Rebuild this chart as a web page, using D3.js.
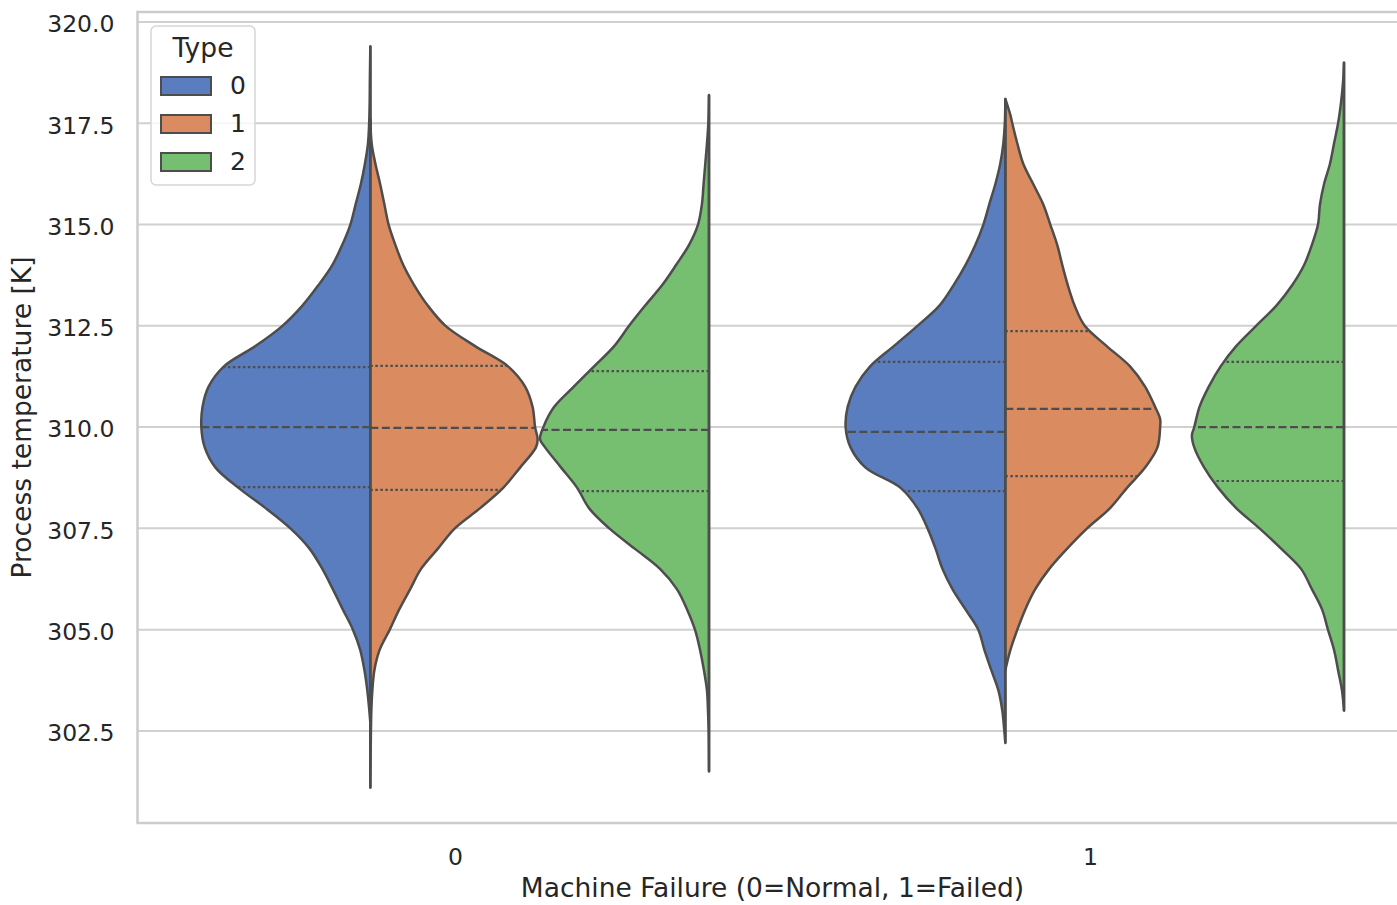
<!DOCTYPE html>
<html><head><meta charset="utf-8">
<script src="https://cdn.jsdelivr.net/npm/d3@7"></script>
<style>
body{margin:0;background:#fff}
svg{display:block}
text{font-family:"DejaVu Sans",sans-serif;fill:#262626}
</style>
</head><body>
<svg id="chart" width="1397" height="905"></svg>
<script>
// ---------------- DATA ----------------
const categories = ["0", "1"];                 // Machine Failure
const hueLevels = ["0", "1", "2"];              // Type
const yTicks = [302.5, 305.0, 307.5, 310.0, 312.5, 315.0, 317.5, 320.0];
const xTitle = "Machine Failure (0=Normal, 1=Failed)";
const yTitle = "Process temperature [K]";
const legendTitle = "Type";

// density profiles [temperature, relative density]
const fail0_type0 = [[319.4,0],[318.5,0.003],[318,0.004],[317.5,0.007],[317,0.014],[316.5,0.032],[316,0.056],[315.5,0.087],[315,0.118],[314.5,0.166],[314,0.225],[313.5,0.308],[313,0.402],[312.5,0.52],[312,0.68],[311.5,0.866],[311,0.957],[310.5,0.993],[310,1.0],[309.5,0.98],[309,0.916],[308.5,0.78],[308,0.62],[307.5,0.473],[307,0.36],[306.5,0.284],[306,0.222],[305.5,0.163],[305,0.103],[304.5,0.06],[304,0.035],[303.5,0.018],[303,0.006],[302.7,0]];
const fail0_type1 = [[317.6,0],[317,0.008],[316.5,0.03],[316,0.058],[315.5,0.083],[315,0.108],[314.5,0.148],[314,0.195],[313.5,0.26],[313,0.34],[312.5,0.445],[312,0.62],[311.5,0.815],[311,0.916],[310.5,0.96],[310,0.975],[309.7,0.99],[309.5,0.98],[309,0.886],[308.5,0.786],[308,0.65],[307.5,0.5],[307,0.4],[306.5,0.3],[306,0.236],[305.5,0.171],[305,0.115],[304.5,0.055],[304,0.024],[303.5,0.012],[303,0.006],[302,0.002],[301.1,0]];
const fail0_type2 = [[318.2,0],[317.5,0.004],[317,0.012],[316.5,0.022],[316,0.032],[315.5,0.042],[315,0.065],[314.5,0.118],[314,0.195],[313.5,0.278],[313,0.378],[312.5,0.473],[312,0.561],[311.5,0.68],[311,0.8],[310.5,0.916],[310,0.98],[309.7,1.0],[309.5,0.97],[309,0.875],[308.5,0.78],[308,0.71],[307.5,0.59],[307,0.44],[306.5,0.29],[306,0.19],[305.5,0.13],[305,0.083],[304.5,0.053],[304,0.03],[303.5,0.012],[303,0.006],[302.5,0.002],[301.5,0]];
const fail1_type0 = [[318.1,0],[317.5,0.003],[317,0.012],[316.5,0.03],[316,0.059],[315.5,0.095],[315,0.13],[314.5,0.177],[314,0.236],[313.5,0.307],[313,0.39],[312.5,0.52],[312,0.66],[311.5,0.8],[311,0.886],[310.5,0.933],[310,0.945],[309.5,0.916],[309,0.827],[308.5,0.62],[308,0.52],[307.5,0.46],[307,0.413],[306.5,0.372],[306,0.313],[305.5,0.236],[305,0.16],[304.5,0.124],[304,0.083],[303.5,0.041],[303,0.018],[302.5,0.006],[302.2,0]];
const fail1_type1 = [[318.1,0],[317.7,0.03],[317.5,0.041],[317,0.071],[316.5,0.106],[316,0.165],[315.5,0.224],[315,0.266],[314.5,0.307],[314,0.337],[313.5,0.37],[313,0.41],[312.5,0.47],[312,0.6],[311.5,0.738],[311,0.827],[310.5,0.886],[310.2,0.916],[310,0.916],[309.5,0.9],[309,0.827],[308.5,0.72],[308,0.62],[307.5,0.484],[307,0.366],[306.5,0.26],[306,0.177],[305.5,0.118],[305,0.071],[304.5,0.03],[304,0]];
const fail1_type2 = [[319,0],[318.5,0.006],[318,0.018],[317.5,0.035],[317,0.059],[316.5,0.083],[316,0.118],[315.5,0.142],[315,0.154],[314.5,0.19],[314,0.236],[313.5,0.307],[313,0.4],[312.5,0.52],[312,0.638],[311.5,0.73],[311,0.8],[310.5,0.855],[310,0.886],[309.8,0.9],[309.5,0.886],[309,0.827],[308.5,0.744],[308,0.638],[307.5,0.5],[307,0.372],[306.5,0.254],[306,0.19],[305.5,0.13],[305,0.095],[304.5,0.059],[304,0.035],[303.5,0.012],[303,0]];

// quartiles [Q1, median, Q3]
const fail0_type0_quart = [308.52, 310.00, 311.48];
const fail0_type1_quart = [308.45, 309.98, 311.51];
const fail0_type2_quart = [308.42, 309.93, 311.38];
const fail1_type0_quart = [308.42, 309.88, 311.61];
const fail1_type1_quart = [308.79, 310.45, 312.37];
const fail1_type2_quart = [308.67, 310.00, 311.61];

const profiles = [[fail0_type0, fail0_type1, fail0_type2],[fail1_type0, fail1_type1, fail1_type2]];
const quarts = [[fail0_type0_quart, fail0_type1_quart, fail0_type2_quart],[fail1_type0_quart, fail1_type1_quart, fail1_type2_quart]];

// ---------------- STYLE / LAYOUT ----------------
const colors = ["#597dbf", "#da8b5f", "#76bf71"];
const hueOffset = [-2/15, -2/15, 6/15];
const hueSide = [-1, 1, -1];
const lineColor = "#4d4d4d";
const tickFont = 23.5, labelFont = 26.5, legendFont = 25;

const svg = d3.select("#chart");
const pL = 137.5, pR = 1407.5, pT = 12, pB = 823;

const x = d3.scaleLinear().domain([-0.5, 1.5]).range([pL, pR]);
const y = d3.scaleLinear().domain([300.227, 320.247]).range([pB, pT]);
const w = d3.scaleLinear().domain([0, 1]).range([0, 169]);

// grid
svg.append("g").selectAll("line").data(yTicks).join("line")
  .attr("x1", pL).attr("x2", pR)
  .attr("y1", d => y(d)).attr("y2", d => y(d))
  .attr("stroke", "#d0d0d0").attr("stroke-width", 2);

// violins
const gV = svg.append("g");
categories.forEach((c, ci) => {
  hueLevels.forEach((h, hi) => {
    const cx = x(ci + hueOffset[hi]);
    const s = hueSide[hi];
    const prof = profiles[ci][hi];
    const area = d3.area()
      .y(d => y(d[0]))
      .x0(cx)
      .x1(d => cx + s * w(d[1]))
      .curve(d3.curveCatmullRom.alpha(0.5));
    gV.append("path").datum(prof)
      .attr("d", area)
      .attr("fill", colors[hi])
      .attr("stroke", lineColor)
      .attr("stroke-width", 2.5)
      .attr("stroke-linejoin", "round");
    const interp = d3.scaleLinear().domain(prof.map(d => d[0])).range(prof.map(d => d[1]));
    quarts[ci][hi].forEach((q, qi) => {
      gV.append("line")
        .attr("x1", cx).attr("x2", cx + s * w(interp(q)))
        .attr("y1", y(q)).attr("y2", y(q))
        .attr("stroke", lineColor)
        .attr("stroke-width", 2.2)
        .attr("stroke-dasharray", qi === 1 ? "8,3.5" : "2.5,2.5");
    });
    gV.append("line")
      .attr("x1", cx).attr("x2", cx)
      .attr("y1", y(d3.max(prof, d => d[0]))).attr("y2", y(d3.min(prof, d => d[0])))
      .attr("stroke", lineColor).attr("stroke-width", 2.5);
  });
});

// spines
svg.append("rect").attr("x", pL).attr("y", pT)
  .attr("width", pR - pL).attr("height", pB - pT)
  .attr("fill", "none").attr("stroke", "#cccccc").attr("stroke-width", 2.5);

// y axis
const yAxis = svg.append("g").attr("transform", `translate(${pL},0)`)
  .call(d3.axisLeft(y).tickValues(yTicks).tickFormat(d3.format(".1f")).tickSize(0).tickPadding(23));
yAxis.select(".domain").remove();
yAxis.selectAll("text").attr("font-size", tickFont).attr("dy", "0.42em")
  .style("font-family", '"DejaVu Sans",sans-serif').attr("fill", "#262626");

// x axis
const xAxis = svg.append("g").attr("transform", `translate(0,${pB})`)
  .call(d3.axisBottom(x).tickValues(categories.map((c, i) => i)).tickFormat((d, i) => categories[i]).tickSize(0).tickPadding(25));
xAxis.select(".domain").remove();
xAxis.selectAll("text").attr("font-size", tickFont)
  .style("font-family", '"DejaVu Sans",sans-serif').attr("fill", "#262626");

// titles
svg.append("text").attr("x", (pL + pR) / 2).attr("y", 897)
  .attr("text-anchor", "middle").attr("font-size", labelFont).text(xTitle);
svg.append("text").attr("transform", `translate(31,${(pT + pB) / 2}) rotate(-90)`)
  .attr("text-anchor", "middle").attr("font-size", labelFont).text(yTitle);

// legend
const lg = svg.append("g");
lg.append("rect").attr("x", 151).attr("y", 26).attr("width", 104).attr("height", 159)
  .attr("rx", 5).attr("fill", "#fff").attr("fill-opacity", 0.8)
  .attr("stroke", "#d6d6d6").attr("stroke-width", 1.5);
lg.append("text").attr("x", 203).attr("y", 57).attr("text-anchor", "middle")
  .attr("font-size", labelFont).text(legendTitle);
hueLevels.forEach((h, i) => {
  const yy = 77 + i * 38;
  lg.append("rect").attr("x", 161).attr("y", yy).attr("width", 50).attr("height", 18)
    .attr("fill", colors[i]).attr("stroke", lineColor).attr("stroke-width", 2);
  lg.append("text").attr("x", 230).attr("y", yy + 17).attr("font-size", legendFont).text(h);
});
</script>
</body></html>
